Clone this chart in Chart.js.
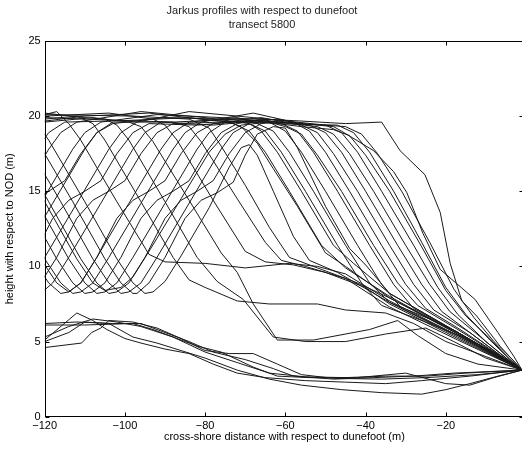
<!DOCTYPE html>
<html>
<head>
<meta charset="utf-8">
<script src="https://cdn.jsdelivr.net/npm/chart.js@4.4.0/dist/chart.umd.min.js"></script>
<style>
  html, body { margin: 0; padding: 0; background: #fff; overflow: hidden; }
  #wrap { width: 524px; height: 451px; }
</style>
</head>
<body>
<div id="wrap"><canvas id="profiles" width="524" height="451"></canvas></div>
<script>
const TITLE = ['Jarkus profiles with respect to dunefoot', 'transect 5800'];
const X_LABEL = 'cross-shore distance with respect to dunefoot (m)';
const Y_LABEL = 'height with respect to NOD (m)';
const xTicks = [-120, -100, -80, -60, -40, -20];
const yTicks = [0, 5, 10, 15, 20, 25];

// single dune ridge, front running out onto a low shelf, [distance, height]
const e1 = [[-120,20.1],[-117,20.3],[-114,19.5],[-111,18.4],[-102,14.3],[-94,10.8],[-90,10.3],[-80,10.2],[-70,9.9],[-59,10.2],[-52,10.0],[-45,9.5],[-34,7.7],[-17,5.4],[-1,3.1]];
const e2 = [[-120,19.8],[-112,20.0],[-108,19.5],[-105,18.4],[-96,14.3],[-88,10.6],[-84,9.1],[-80,8.6],[-72,7.7],[-64,7.5],[-52,7.5],[-45,7.1],[-35,6.9],[-28,6.2],[-20,5.0],[-10,4.0],[-1,3.1]];
const e3 = [[-120,20.2],[-110,19.9],[-105,19.8],[-102,19.4],[-99,18.4],[-90,14.3],[-82,10.6],[-77,9.0],[-70.5,7.8],[-63,5.3],[-55,5.0],[-45,5.0],[-35,5.5],[-25,5.9],[-18,5.0],[-10,3.9],[-1,3.1]];
const e4 = [[-120,19.6],[-108,19.9],[-99,19.6],[-96,19.3],[-93,18.3],[-84,14.4],[-76,10.9],[-72,9.6],[-68,7.5],[-62,5.1],[-53,5.1],[-39,5.8],[-32,6.4],[-27,5.4],[-20,4.2],[-12,3.5],[-1,3.1]];
const e5 = [[-120,20.0],[-104,20.2],[-93,19.8],[-90,19.4],[-87,18.4],[-78,14.4],[-70,11.0],[-65,10.3],[-58,10.1],[-50,9.6],[-40,8.6],[-34,7.5],[-17,5.2],[-1,3.1]];
const e6 = [[-120,19.9],[-100,19.7],[-88,19.6],[-84,19.3],[-81,18.3],[-72,14.5],[-65,11.6],[-61,10.4],[-55,10.0],[-45,9.2],[-34,7.3],[-17,5.1],[-1,3.1]];
const e7 = [[-120,20.1],[-98,20.0],[-84,19.8],[-79,19.2],[-76,18.0],[-70,15.4],[-64,12.6],[-59,10.6],[-52,9.9],[-42,8.9],[-34,7.9],[-17,5.6],[-1,3.1]];

// dune valley behind a younger front ridge
const v01 = [[-126,20.0],[-122,19.5],[-119,18.4],[-110,14.3],[-102,10.5],[-98,8.9],[-95,8.2],[-93,8.3],[-90,9.0],[-86,10.7],[-79,13.9],[-74,16.6],[-71,17.9],[-69,18.1],[-67,17.4],[-63,15.0],[-58,12.0],[-54,10.4],[-47,9.6],[-34,7.6],[-17,5.3],[-1,3.1]];
const v02 = [[-129,20.0],[-125,19.5],[-122,18.4],[-113,14.3],[-105,10.5],[-101,8.9],[-98,8.2],[-97,8.2],[-94,8.9],[-90,10.6],[-85,13.2],[-81,14.4],[-77,14.9],[-73,15.6],[-70,17.4],[-67,18.8],[-63,19.3],[-60,19.2],[-57,17.9],[-50,14.0],[-44,11.2],[-40,10.1],[-34,8.2],[-17,5.6],[-1,3.1]];
const v03 = [[-132,20.0],[-128,19.5],[-125,18.4],[-116,14.3],[-108,10.5],[-104,8.9],[-101,8.2],[-99,8.3],[-96,8.9],[-92,10.6],[-84,14.2],[-76,17.8],[-73,18.9],[-69,19.5],[-66,19.0],[-62,17.6],[-56,15.0],[-48,11.4],[-43,10.2],[-34,8.2],[-17,5.6],[-1,3.1]];
const v04 = [[-135,20.0],[-131,19.5],[-128,18.4],[-119,14.3],[-111,10.5],[-107,8.9],[-104,8.2],[-102,8.3],[-99,8.9],[-95,10.6],[-90,13.2],[-86,14.4],[-82,15.0],[-78,15.7],[-74,17.5],[-70,18.9],[-66,19.5],[-64,19.6],[-60,19.0],[-56,17.6],[-50,15.0],[-42,11.4],[-36,8.8],[-31,7.2],[-17,5.4],[-1,3.1]];
const v05 = [[-138,20.0],[-134,19.5],[-131,18.4],[-122,14.3],[-114,10.5],[-110,8.9],[-107,8.2],[-105,8.3],[-102,8.9],[-98,10.6],[-90,14.2],[-82,17.8],[-79,18.9],[-75,19.6],[-73,19.5],[-69,19.0],[-65,17.6],[-59,15.0],[-51,11.4],[-45,9.9],[-34,8.0],[-17,5.5],[-1,3.1]];
const v06 = [[-141,20.0],[-137,19.5],[-134,18.4],[-125,14.3],[-117,10.5],[-113,8.9],[-110,8.2],[-108,8.3],[-105,8.9],[-101,10.6],[-96,13.2],[-92,14.4],[-88,15.0],[-84,15.7],[-80,17.5],[-76,18.9],[-72,19.5],[-66,19.8],[-61,19.5],[-57,19.0],[-53,17.6],[-47,15.0],[-39,11.4],[-33,8.8],[-28,7.2],[-17,5.6],[-9,4.4],[-1,3.1]];
const v07 = [[-144,20.0],[-140,19.5],[-137,18.4],[-128,14.3],[-120,10.5],[-116,8.9],[-113,8.2],[-111,8.3],[-108,8.9],[-104,10.6],[-96,14.2],[-88,17.8],[-85,18.9],[-81,19.6],[-68,20.2],[-58,19.6],[-54,19.0],[-50,17.6],[-44,15.0],[-36,11.4],[-30,8.8],[-25,7.2],[-17,5.9],[-9,4.5],[-1,3.1]];
const v08 = [[-147,20.0],[-143,19.5],[-140,18.4],[-131,14.3],[-123,10.5],[-119,8.9],[-116,8.2],[-114,8.3],[-111,8.9],[-107,10.6],[-102,13.2],[-98,14.4],[-94,15.0],[-90,15.7],[-86,17.5],[-82,18.9],[-78,19.5],[-66,19.9],[-56,19.4],[-52,18.9],[-48,17.5],[-42,15.0],[-34,11.4],[-28,8.8],[-23,7.1],[-14,5.6],[-7,4.2],[-1,3.1]];
const v09 = [[-127,8.9],[-124,8.2],[-121,8.2],[-118,8.9],[-114,10.6],[-106,14.2],[-98,17.8],[-95,18.9],[-91,19.6],[-78,19.4],[-62,19.8],[-54,19.4],[-50,18.9],[-46,17.6],[-40,15.0],[-32,11.4],[-26,8.8],[-21,7.0],[-12,5.2],[-6,4.0],[-1,3.1]];
const v10 = [[-127,8.9],[-124,8.2],[-121,8.9],[-117,10.6],[-112,13.2],[-108,14.4],[-104,15.0],[-100,15.7],[-96,17.5],[-92,18.9],[-88,19.5],[-76,19.6],[-62,19.6],[-52,19.3],[-48,18.8],[-44,17.5],[-38,15.0],[-30,11.4],[-24,8.8],[-19,7.0],[-10,5.0],[-5,3.9],[-1,3.1]];
const v11 = [[-130,8.9],[-127,8.2],[-124,8.9],[-120,10.6],[-112,14.2],[-104,17.8],[-101,18.9],[-97,19.6],[-84,20.3],[-68,19.9],[-50,19.4],[-46,18.9],[-42,17.6],[-36,15.0],[-28,11.4],[-22,8.6],[-17,6.8],[-10,5.0],[-4,3.7],[-1,3.1]];
const v12 = [[-133,8.9],[-130,8.2],[-127,8.9],[-123,10.6],[-118,13.2],[-114,14.4],[-110,15.0],[-106,15.7],[-102,17.5],[-98,18.9],[-94,19.5],[-82,19.4],[-68,19.7],[-56,19.3],[-48,19.1],[-44,18.7],[-40,17.4],[-34,15.0],[-26,11.3],[-20,8.4],[-15,6.7],[-9,5.2],[-4,3.8],[-1,3.1]];
const v13 = [[-136,8.9],[-133,8.2],[-130,8.9],[-126,10.6],[-118,14.2],[-110,17.8],[-107,18.9],[-103,19.6],[-88,19.6],[-72,19.8],[-56,19.5],[-45,19.3],[-41,18.8],[-37,17.5],[-31,15.0],[-24,11.6],[-18,8.5],[-13,6.6],[-8,5.0],[-3,3.7],[-1,3.1]];
const v14 = [[-139,8.9],[-136,8.2],[-133,8.9],[-129,10.6],[-121,14.2],[-113,17.8],[-110,18.9],[-106,19.6],[-92,20.1],[-76,19.9],[-58,19.7],[-45,19.5],[-36,19.6],[-31.4,17.7],[-25.2,16.1],[-21.4,13.6],[-18.9,10.2],[-16,7.7],[-12.3,6.7],[-6.5,4.7],[-1,3.1]];
const v15 = [[-142,8.9],[-139,8.2],[-136,8.9],[-132,10.6],[-127,13.2],[-123,14.4],[-119,15.0],[-115,15.7],[-111,17.5],[-107,18.9],[-103,19.5],[-90,19.9],[-76,19.8],[-60,19.6],[-48,19.3],[-46,19.0],[-38,17.7],[-33,16.3],[-29.7,14.9],[-25.7,12.2],[-21.4,9.8],[-12.7,7.8],[-7,5.6],[-3,4.0],[-1,3.1]];
const v16 = [[-145,8.9],[-142,8.2],[-139,8.9],[-135,10.6],[-127,14.2],[-119,17.8],[-116,18.9],[-112,19.6],[-96,20.3],[-80,19.9],[-69,19.5],[-65,19.0],[-61,17.6],[-55,15.0],[-47,11.4],[-41,8.9],[-36,7.4],[-25,6.3],[-15,5.2],[-8,4.3],[-1,3.1]];
const v17 = [[-148,8.9],[-145,8.2],[-142,8.9],[-138,10.6],[-130,14.2],[-122,17.8],[-119,18.9],[-115,19.6],[-100,19.7],[-84,19.9],[-74,19.6],[-71,19.3],[-67,18.2],[-63,16.5],[-57,14.0],[-50,10.9],[-45,10.0],[-34,7.9],[-17,5.5],[-1,3.1]];
const v18 = [[-145,20.0],[-141,19.5],[-138,18.4],[-129,14.3],[-121,10.5],[-117,8.9],[-114,8.3],[-111,8.9],[-107,10.6],[-99,14.2],[-91,17.8],[-88,18.9],[-84,19.6],[-72,19.9],[-67,19.5],[-63,19.0],[-59,17.6],[-53,15.0],[-45,11.4],[-39,8.9],[-34,7.6],[-24,6.5],[-17,5.6],[-1,3.1]];
const v19 = [[-136,20.0],[-132,19.5],[-129,18.4],[-120,14.3],[-112,10.5],[-108,8.9],[-105,8.4],[-101,8.6],[-98,9.3],[-94,11.0],[-86,14.5],[-79,17.6],[-75,18.8],[-71,19.4],[-64,19.6],[-60,19.3],[-56,18.8],[-52,17.4],[-46,15.0],[-38,11.4],[-32,8.9],[-27,7.4],[-17,5.8],[-1,3.1]];
const v20 = [[-153,8.9],[-150,8.2],[-145,10.6],[-137,14.2],[-129,17.8],[-126,18.9],[-122,19.6],[-110,20.0],[-94,20.2],[-78,19.7],[-62,19.5],[-47,19.4],[-43,18.9],[-39,17.6],[-33,15.0],[-26,11.6],[-20,8.6],[-15,6.8],[-9,5.1],[-4,3.8],[-1,3.1]];

// low beach profiles without a dune ridge
const l01 = [[-120,6.1],[-110,6.1],[-98,6.2],[-93,5.8],[-88,5.3],[-80,4.3],[-72,3.6],[-64,2.9],[-55,2.65],[-45,2.6],[-35,2.7],[-25,2.7],[-15,2.9],[-1,3.1]];
const l02 = [[-120,6.2],[-112,6.3],[-103,6.2],[-96,6.2],[-90,5.6],[-84,5.0],[-78,4.3],[-70,3.8],[-63,3.2],[-58,2.7],[-48,2.5],[-38,2.6],[-28,2.7],[-18,2.9],[-1,3.1]];
const l03 = [[-120,5.1],[-112,6.9],[-108,6.4],[-104.5,5.8],[-100,5.2],[-96,4.9],[-90,4.5],[-84,4.2],[-78,3.5],[-72,2.9],[-65,2.6],[-55,2.4],[-45,2.3],[-35,2.2],[-26,2.4],[-14,2.7],[-1,3.1]];
const l04 = [[-120,4.6],[-110.8,4.9],[-108.3,5.6],[-106,5.9],[-104,6.4],[-98,6.3],[-92,5.9],[-86,5.2],[-80,4.4],[-74,4.2],[-68,4.2],[-62,3.5],[-56,2.8],[-48,2.55],[-36,2.5],[-25,2.6],[-12,2.8],[-1,3.1]];
const l05 = [[-120,5.0],[-114,5.6],[-110,6.3],[-104,6.2],[-98,5.3],[-92,4.9],[-86,4.4],[-80,3.9],[-72,3.1],[-64,2.5],[-56,2.1],[-46,1.8],[-36,1.6],[-26,1.5],[-20,1.8],[-14,2.2],[-7,2.7],[-1,3.1]];
const l06 = [[-120,5.3],[-114,6.0],[-108,6.5],[-102,6.3],[-96,6.0],[-88,5.3],[-82,4.7],[-76,4.3],[-68,3.3],[-62,2.7],[-54,2.6],[-42,2.6],[-30,2.9],[-20,2.2],[-14,2.1],[-8,2.6],[-1,3.1]];

const profiles = [e1, e2, e3, e4, e5, e6, e7,
  v01, v02, v03, v04, v05, v06, v07, v08, v09, v10,
  v11, v12, v13, v14, v15, v16, v17, v18, v19, v20,
  l01, l02, l03, l04, l05, l06];

const FONT = { family: "'Liberation Sans', Arial, Helvetica, sans-serif", size: 11, weight: 'normal' };

// box round the axes with inward tick marks on all four sides
const frame = {
  id: 'frame',
  afterDatasetsDraw(chart) {
    const { ctx, chartArea: a, scales: { x, y } } = chart;
    const L = Math.round(a.left) + 0.5, R = Math.round(a.right) - 0.5;
    const T = Math.round(a.top) + 0.5, B = Math.round(a.bottom) - 0.5;
    ctx.save();
    ctx.strokeStyle = '#000';
    ctx.lineWidth = 1;
    ctx.strokeRect(L, T, R - L, B - T);
    ctx.beginPath();
    xTicks.forEach(v => {
      const px = Math.round(x.getPixelForValue(v)) + 0.5;
      ctx.moveTo(px, B); ctx.lineTo(px, B - 4);
      ctx.moveTo(px, T); ctx.lineTo(px, T + 4);
    });
    yTicks.forEach(v => {
      const py = Math.round(y.getPixelForValue(v)) + 0.5;
      ctx.moveTo(L, py); ctx.lineTo(L + 4, py);
      ctx.moveTo(R, py); ctx.lineTo(R - 4, py);
    });
    ctx.stroke();
    ctx.restore();
  }
};

new Chart(document.getElementById('profiles'), {
  type: 'line',
  data: {
    datasets: profiles.map(p => ({
      data: p.map(([x, y]) => ({ x, y })),
      borderColor: '#1a1a1a',
      borderWidth: 1,
      pointRadius: 0,
      tension: 0,
      fill: false
    }))
  },
  options: {
    animation: false, responsive: false, devicePixelRatio: 1,
    layout: { padding: 0 },
    plugins: {
      legend: { display: false },
      tooltip: { enabled: false },
      title: {
        display: true, text: TITLE, color: '#222',
        font: { ...FONT, lineHeight: 1.27 },
        padding: { top: 4, bottom: 9 }
      }
    },
    scales: {
      x: {
        type: 'linear', min: -120, max: -0.5,
        grid: { display: false, drawTicks: false },
        border: { display: false },
        afterBuildTicks: s => { s.ticks = xTicks.map(v => ({ value: v })); },
        afterFit: s => { s.height = 34.3; },
        ticks: {
          padding: 3, color: '#000', font: FONT, autoSkip: false, maxRotation: 0,
          callback: v => String(v).replace('-', '\u2212')
        },
        title: { display: true, text: X_LABEL, color: '#000', font: FONT, padding: { top: 0, bottom: 7.4 } }
      },
      y: {
        type: 'linear', min: 0, max: 25,
        grid: { display: false, drawTicks: false },
        border: { display: false },
        afterBuildTicks: s => { s.ticks = yTicks.map(v => ({ value: v })); },
        afterFit: s => { s.width = 44.7; },
        ticks: { padding: 4, color: '#000', font: FONT, autoSkip: false },
        title: { display: true, text: Y_LABEL, color: '#000', font: FONT, padding: { top: 3.4, bottom: 0 } }
      }
    }
  },
  plugins: [frame]
});
</script>
</body>
</html>
